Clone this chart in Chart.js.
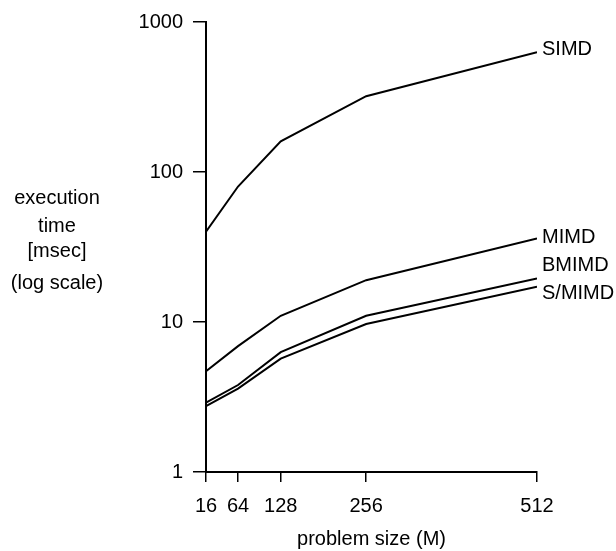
<!DOCTYPE html>
<html>
<head>
<meta charset="utf-8">
<script src="https://cdn.jsdelivr.net/npm/chart.js@4.4.1/dist/chart.umd.min.js"></script>
<style>
  html, body { margin: 0; padding: 0; background: #fff; }
  #wrap { width: 616px; height: 551px; }
</style>
</head>
<body>
<div id="wrap"><canvas id="chart" width="616" height="551"></canvas></div>
<script>
// problem size (M) and execution time [msec]
var sizes = [16, 64, 128, 256, 512];
var simd = [40, 80, 160, 320, 630];
var mimd = [4.7, 6.9, 11, 19, 36];
var bmimd = [2.9, 3.8, 6.3, 11, 19.5];
var smimd = [2.75, 3.6, 5.7, 9.7, 17.2];
var names = ['SIMD', 'MIMD', 'BMIMD', 'S/MIMD'];
var xTicks = [16, 64, 128, 256, 512];
var yTicks = [1, 10, 100, 1000];
var yTitle = ['execution', 'time', '[msec]', '(log scale)'];

var FONT = '"Liberation Sans", Arial, Helvetica, sans-serif';

function pts(vals) {
    return sizes.map(function(s, i){ return {x: s, y: vals[i]}; });
}

// label offsets next to the line ends
var labelDy = [-3, -1, -13, 7];

var labels = {
    id: 'labels',
    afterDraw: function(chart) {
        var ctx = chart.ctx;
        ctx.save();
        ctx.fillStyle = '#000';
        ctx.font = '20px ' + FONT;
        ctx.textBaseline = 'middle';
        ctx.textAlign = 'left';
        chart.data.datasets.forEach(function(ds, i){
            var meta = chart.getDatasetMeta(i);
            var last = meta.data[meta.data.length - 1];
            ctx.fillText(ds.label, last.x + 5, last.y + labelDy[i]);
        });
        ctx.textAlign = 'center';
        var ys = [198, 226, 251, 283];
        yTitle.forEach(function(t, i){
            ctx.fillText(t, 57, ys[i]);
        });
        ctx.restore();
    }
};

var ctx = document.getElementById('chart');
var myChart = new Chart(ctx, {
    type: 'line',
    data: {
        datasets: [simd, mimd, bmimd, smimd].map(function(v, i){
            return {
                label: names[i],
                data: pts(v),
                borderColor: '#000',
                borderWidth: 2,
                pointRadius: 0,
                tension: 0,
                fill: false
            };
        })
    },
    options: {
        responsive: false,
        animation: false,
        layout: { padding: { left: 0, top: 20, right: 79, bottom: 0 } },
        plugins: {
            legend: { display: false },
            tooltip: { enabled: false }
        },
        scales: {
            x: {
                type: 'linear',
                min: 16,
                max: 512,
                afterBuildTicks: function(s){ s.ticks = xTicks.map(function(v){ return {value: v}; }); },
                afterFit: function(s){ s.height = 79; },
                ticks: {
                    autoSkip: false,
                    maxRotation: 0,
                    color: '#000',
                    padding: 12,
                    font: { family: FONT, size: 20 },
                    callback: function(v){ return String(v); }
                },
                grid: { drawOnChartArea: false, drawTicks: true, tickLength: 10, color: '#000', lineWidth: 1.5 },
                border: { display: true, color: '#000', width: 2 },
                title: {
                    display: true,
                    text: 'problem size (M)',
                    color: '#000',
                    font: { family: FONT, size: 20 },
                    padding: { top: 0, bottom: 0 }
                }
            },
            y: {
                type: 'logarithmic',
                min: 1,
                max: 1000,
                afterBuildTicks: function(s){ s.ticks = yTicks.map(function(v){ return {value: v}; }); },
                afterFit: function(s){ s.width = 206; },
                ticks: {
                    color: '#000',
                    padding: 10,
                    font: { family: FONT, size: 20 },
                    callback: function(v){ return String(v); }
                },
                grid: { drawOnChartArea: false, drawTicks: true, tickLength: 13, color: '#000', lineWidth: 1.5 },
                border: { display: true, color: '#000', width: 2 }
            }
        }
    },
    plugins: [labels]
});
</script>
</body>
</html>
